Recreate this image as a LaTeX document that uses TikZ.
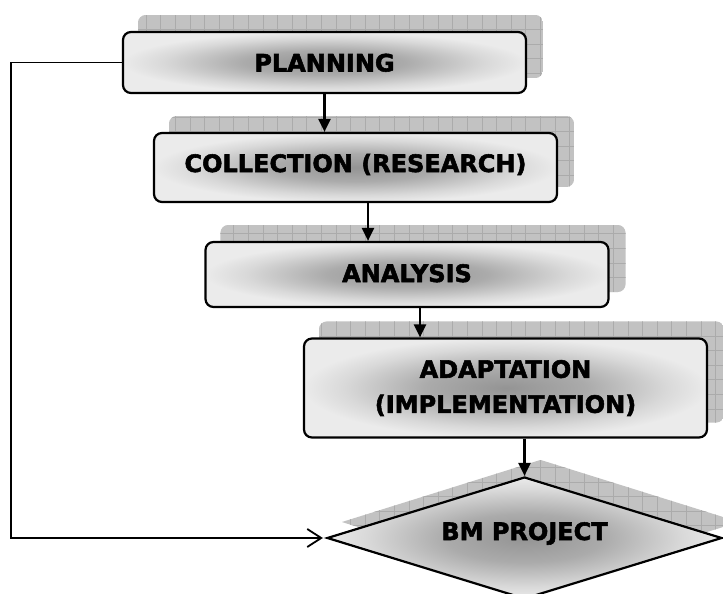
\documentclass[tikz,border=0pt]{standalone}
\usepackage{fontspec}
\newfontfamily\boxfont{DejaVu Sans}
\usetikzlibrary{shapes.geometric,arrows.meta}
\pgfdeclarelayer{background}
\pgfsetlayers{background,main}
% soft grey glow, darkest in the middle of each shape
\pgfdeclareradialshading{boxglow}{\pgfpoint{0bp}{0bp}}{color(0bp)=(black!42); color(10bp)=(black!33); color(20bp)=(black!15); color(25bp)=(black!8); color(50bp)=(black!8)}

\tikzset{
  label font/.style={font=\boxfont\bfseries\addfontfeatures{FakeBold=2.2}\fontsize{24}{35}\selectfont},
  stagebox/.style={label font, draw=black, line width=2.2pt, rounded corners=8pt,
    shading=boxglow, minimum width=403pt, inner sep=0pt, align=center},
  goal/.style={label font, diamond, aspect=3.2, draw=black, line width=2.2pt,
    shading=boxglow, minimum width=395pt, minimum height=122pt, inner sep=0pt},
  shadefill/.style={fill=black!24},
  shadegrid/.style={draw=black!33, line width=0.5pt},
  flow/.style={line width=2.2pt, -{Triangle[length=13pt,width=12pt]}},
  back/.style={line width=1.8pt, -{Straight Barb[length=14pt,width=18pt]}, shorten >=3pt}
}

% gridded drop shadow behind a rounded box
\newcommand\dropshade[1]{%
  \begin{scope}
    \clip[rounded corners=8pt] ([shift={(16,-16)}]#1.south west) rectangle ([shift={(16,-16)}]#1.north east);
    \path[shadefill] ([shift={(16,-16)}]#1.south west) rectangle ([shift={(16,-16)}]#1.north east);
    \draw[shadegrid] ([shift={(16,-16)}]#1.south west) grid[step=14.6pt] ([shift={(16,-16)}]#1.north east);
  \end{scope}}

\begin{document}
\begin{tikzpicture}[x=1pt,y=-1pt]
  \useasboundingbox (0,0) rectangle (723,594);

  \node[stagebox, minimum height=61pt, text height=18pt, text depth=0pt] (plan) at (324.5,62.5) {PLANNING};
  \node[stagebox, minimum height=69pt, text height=18pt, text depth=9pt] (coll) at (355.5,167.5) {COLLECTION (RESEARCH)};
  \node[stagebox, minimum height=65pt, text height=18pt, text depth=3pt] (ana) at (407,274.5) {ANALYSIS};
  \node[stagebox, minimum height=99pt] (adapt) at (505.5,388) {ADAPTATION\\(IMPLEMENTATION)};
  \node[goal, text height=18pt, text depth=14pt] (proj) at (524.5,538) {BM PROJECT};

  \begin{pgfonlayer}{background}
    \dropshade{plan}
    \dropshade{coll}
    \dropshade{ana}
    \dropshade{adapt}
    \begin{scope}
      \clip ([shift={(16,-16)}]proj.north) -- ([shift={(16,-16)}]proj.east) -- ([shift={(16,-16)}]proj.south) -- ([shift={(16,-16)}]proj.west) -- cycle;
      \path[shadefill] ([shift={(16,-16)}]proj.west |- proj.north) rectangle ([shift={(16,-16)}]proj.east |- proj.south);
      \draw[shadegrid] ([shift={(16,-16)}]proj.west |- proj.north) grid[step=14.6pt] ([shift={(16,-16)}]proj.east |- proj.south);
    \end{scope}
  \end{pgfonlayer}

  \draw[flow] (plan.south) -- (plan.south |- coll.north);
  \draw[flow] ([xshift=12.5pt]coll.south) -- ([xshift=12.5pt]coll.south |- ana.north);
  \draw[flow] ([xshift=13pt]ana.south) -- ([xshift=13pt]ana.south |- adapt.north);
  \draw[flow] (proj.north |- adapt.south) -- (proj.north);
  \draw[back] (plan.west) -- ++(-111,0) |- (proj.west);
\end{tikzpicture}
\end{document}
